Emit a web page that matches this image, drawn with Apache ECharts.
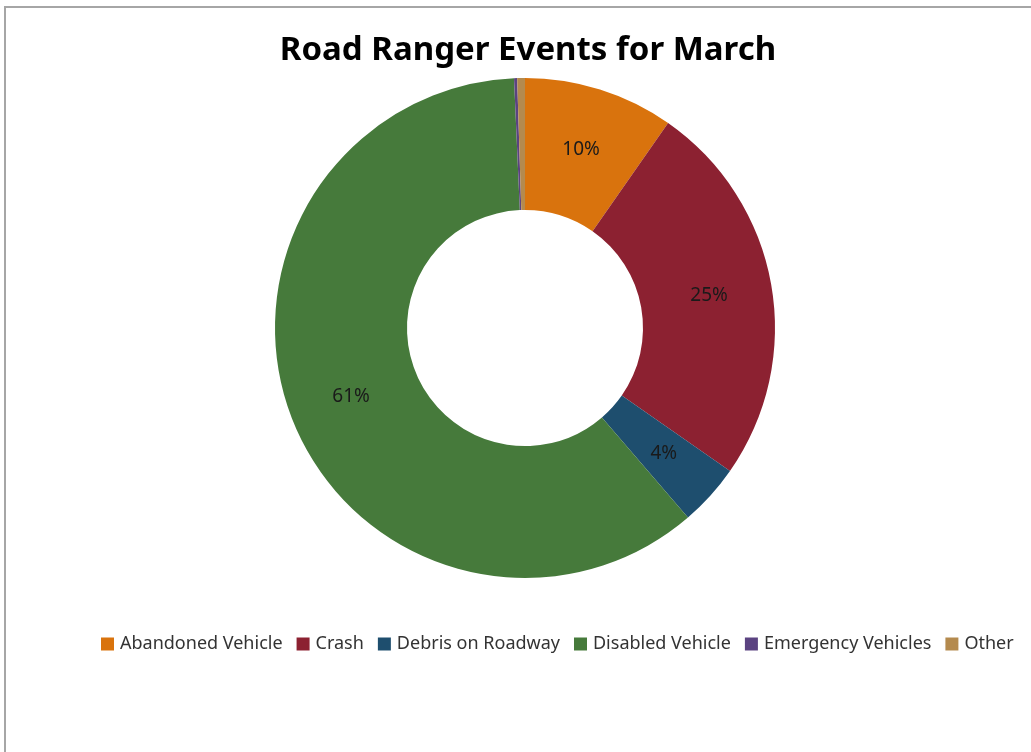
<!DOCTYPE html>
<html>
<head>
<meta charset="utf-8">
<script src="https://cdn.jsdelivr.net/npm/echarts@6/dist/echarts.min.js"></script>
<style>
html,body{margin:0;padding:0;background:#fff;}
#frame{position:absolute;left:4px;top:6px;width:1040px;height:760px;border:2px solid #a6a6a6;box-sizing:border-box;}
#chart{position:absolute;left:0;top:0;width:1031px;height:752px;}
</style>
</head>
<body>
<div id="frame"></div>
<div id="chart"></div>
<script>
const categories = ['Abandoned Vehicle', 'Crash', 'Debris on Roadway', 'Disabled Vehicle', 'Emergency Vehicles', 'Other'];
const values = [9.7, 25.0, 4.0, 60.6, 0.2, 0.5];
const colors = ['#D9730D', '#8C2131', '#1E4E6E', '#467A3B', '#5B4381', '#B48A4E'];

const chart = echarts.init(document.getElementById('chart'));
chart.setOption({
  animation: false,
  title: {
    text: 'Road Ranger Events for March',
    left: 523, top: 29, textAlign: 'center',
    textStyle: {fontFamily: 'Noto Sans', fontWeight: 'bold', fontSize: 33, color: '#000'}
  },
  legend: {
    data: categories,
    left: 96, top: 630,
    itemWidth: 13, itemHeight: 13, itemGap: 14,
    icon: 'rect',
    textStyle: {fontFamily: 'Noto Sans', fontSize: 18, color: '#333', padding: [0,0,0,1]}
  },
  series: [{
    type: 'pie',
    center: [525, 328],
    radius: [118, 250],
    startAngle: 90,
    clockwise: true,
    avoidLabelOverlap: false,
    data: categories.map((c, i) => ({name: c, value: values[i], itemStyle: {color: colors[i]}})),
    label: {
      show: true, position: 'inside',
      fontFamily: 'Noto Sans', fontSize: 19, color: '#1a1a1a',
      formatter: p => p.percent >= 2 ? Math.round(p.percent) + '%' : ''
    },
    labelLine: {show: false},
    emphasis: {disabled: true},
    itemStyle: {borderWidth: 0}
  }]
});
</script>
</body>
</html>
